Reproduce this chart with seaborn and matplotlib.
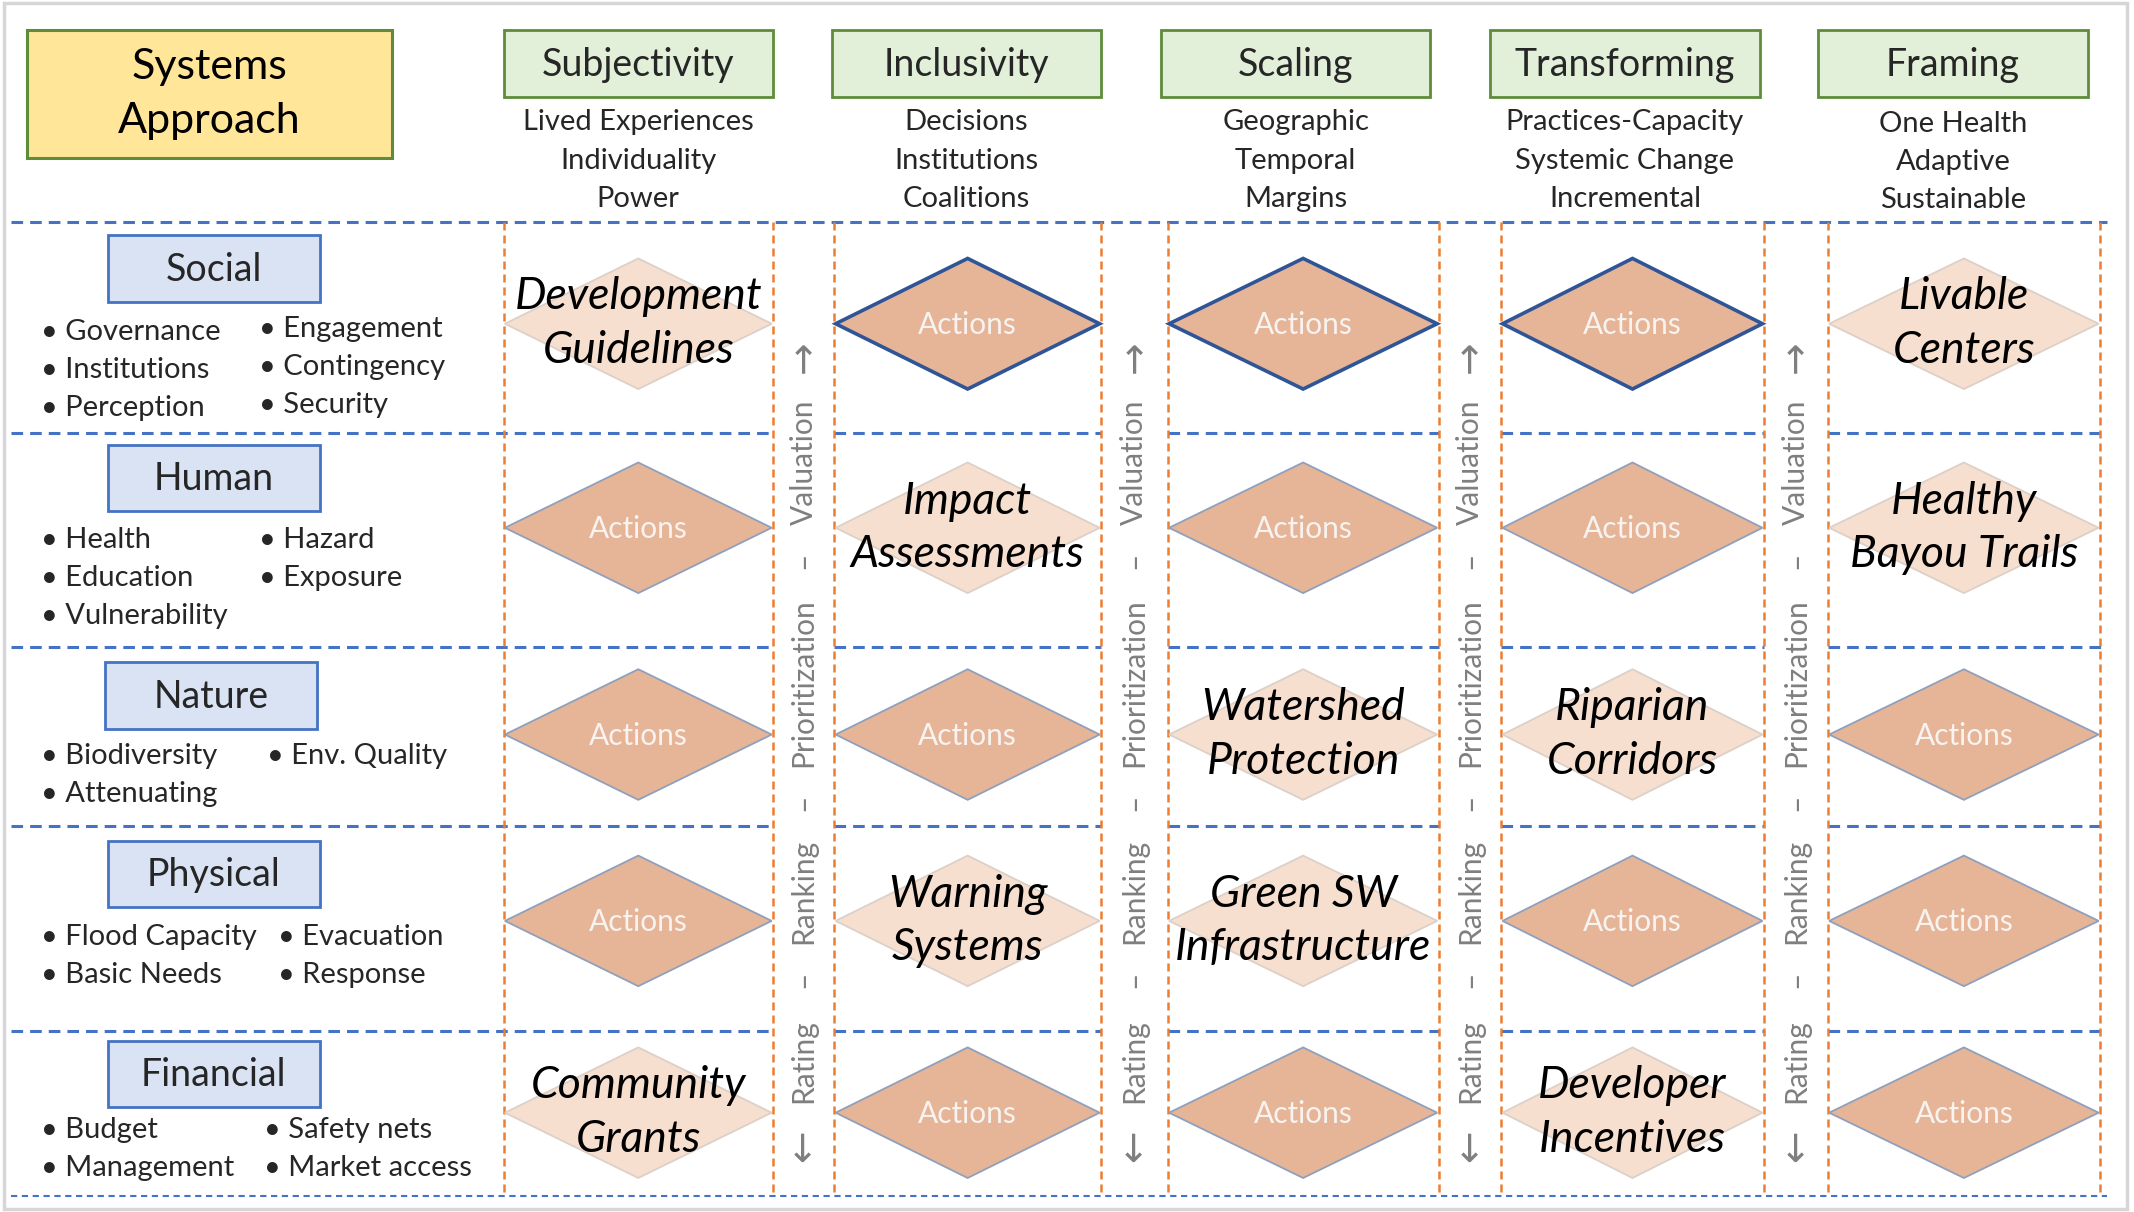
import matplotlib
matplotlib.use("Agg")
import matplotlib.pyplot as plt
import seaborn as sns
from matplotlib.patches import Polygon, Rectangle

# ---------------- data ----------------
frameworks = ["Subjectivity", "Inclusivity", "Scaling", "Transforming", "Framing"]
framework_terms = [
    ["Lived Experiences", "Individuality", "Power"],
    ["Decisions", "Institutions", "Coalitions"],
    ["Geographic", "Temporal", "Margins"],
    ["Practices-Capacity", "Systemic Change", "Incremental"],
    ["One Health", "Adaptive", "Sustainable"],
]
capitals = ["Social", "Human", "Nature", "Physical", "Financial"]
capital_items_left = [
    ["Governance", "Institutions", "Perception"],
    ["Health", "Education", "Vulnerability"],
    ["Biodiversity", "Attenuating"],
    ["Flood Capacity", "Basic Needs"],
    ["Budget", "Management"],
]
capital_items_right = [
    ["Engagement", "Contingency", "Security"],
    ["Hazard", "Exposure"],
    ["Env. Quality"],
    ["Evacuation", "Response"],
    ["Safety nets", "Market access"],
]
cell_labels = [
    ["Development\nGuidelines", "Actions", "Actions", "Actions", "Livable\nCenters"],
    ["Actions", "Impact\nAssessments", "Actions", "Actions", "Healthy\nBayou Trails"],
    ["Actions", "Actions", "Watershed\nProtection", "Riparian\nCorridors", "Actions"],
    ["Actions", "Warning\nSystems", "Green SW\nInfrastructure", "Actions", "Actions"],
    ["Community\nGrants", "Actions", "Actions", "Developer\nIncentives", "Actions"],
]
highlighted = [
    [False, True, True, True, False],
    [False, False, False, False, False],
    [False, False, False, False, False],
    [False, False, False, False, False],
    [False, False, False, False, False],
]
process_steps = ["Rating", "Ranking", "Prioritization", "Valuation"]
title_text = "Systems\nApproach"

# ---------------- layout (canvas units) ----------------
W, H = 1568, 891
col_left = [370, 613, 858, 1103, 1343]
col_right = [568, 809, 1057, 1296, 1543]
header_left = [370, 611, 853, 1095, 1336]
header_w, header_top, header_h = 198, 22, 49
term_y = [90, 118, 146]
row_lines = [163, 318, 476, 607, 758, 879]
row_center = [238, 388, 540, 677, 818]
row_box_left = [79, 79, 77, 79, 79]
row_box_top = [173, 327, 487, 618, 765]
row_box_w, row_box_h = 156, 49
bullet_first_y = [244, 397, 556, 689, 831]
bullet_left_x = 30
bullet_right_x = [190, 190, 196, 204, 194]
bullet_dy = 28
diamond_h = 96
step_y = [780, 655, 502, 340]
sep_y = [720, 590, 412]
arrow_up_y, arrow_down_y = 262, 842

# ---------------- style ----------------
sns.set_theme(style="white")
plt.rcParams['font.family'] = ['Lato', 'DejaVu Sans']

C_BLUE_LINE = "#4472C4"
C_ORANGE_LINE = "#ED7D31"
C_DARK_FILL = "#E6B597"
C_DARK_EDGE = "#8FA0BC"
C_LIGHT_FILL = "#F6DFCF"
C_LIGHT_EDGE = "#DCD0C8"
C_NAVY = "#2F5597"
C_GRAY_TXT = "#7F7F7F"

FS_TITLE = 31
FS_HEAD = 27
FS_TERM = 21
FS_BULLET = 21
FS_ACTION = 21.5
FS_ITALIC = 32
FS_STEP = 21.5

fig = plt.figure(figsize=(21.34, 12.12), dpi=100)
ax = fig.add_axes([0, 0, 1, 1])
ax.set_xlim(0, W)
ax.set_ylim(H, 0)
ax.axis("off")

# page frame
ax.add_patch(Rectangle((3, 2), W - 8, H - 4, fill=False, ec="#D6D6D6", lw=2.5, zorder=0))

# title box
ax.add_patch(Rectangle((20, 22), 268, 94, fc="#FFE699", ec="#5E8C3A", lw=2.2, zorder=2))
ax.text(154, 69, title_text, ha="center", va="center", fontsize=FS_TITLE,
        linespacing=1.5, color="black", zorder=3)

# framework headers
for i, name in enumerate(frameworks):
    x0 = header_left[i]
    ax.add_patch(Rectangle((x0, header_top), header_w, header_h, fc="#E2F0D9",
                           ec="#5E8C3A", lw=2.0, zorder=2))
    ax.text(x0 + header_w / 2, header_top + header_h / 2 + 1, name, ha="center",
            va="center", fontsize=FS_HEAD, zorder=3)
    for j, t in enumerate(framework_terms[i]):
        ax.text(x0 + header_w / 2, term_y[j] + (1 if i == 4 else 0), t,
                ha="center", va="center", fontsize=FS_TERM, zorder=3)

# horizontal blue dashed lines
seg_starts = [8] + col_left[1:]
seg_ends = col_right[:]
seg_ends[-1] = 1548
for k, y in enumerate(row_lines):
    if k == 0:
        ax.plot([8, 1548], [y, y], color=C_BLUE_LINE, lw=2.2, ls=(0, (3.8, 2.3)), zorder=1)
    elif k == len(row_lines) - 1:
        ax.plot([8, 1548], [y, y], color=C_BLUE_LINE, lw=1.5, ls=(0, (3.0, 2.2)), zorder=1)
    else:
        for s, e in zip(seg_starts, seg_ends):
            ax.plot([s, e], [y, y], color=C_BLUE_LINE, lw=2.2, ls=(0, (3.8, 2.3)), zorder=1)

# vertical orange dashed lines
for xl, xr in zip(col_left, col_right):
    for x in (xl, xr):
        ax.plot([x, x], [row_lines[0], row_lines[-1]], color=C_ORANGE_LINE, lw=1.8,
                ls=(0, (3.2, 2.0)), zorder=1)

# capital rows
for r, cap in enumerate(capitals):
    bx, by = row_box_left[r], row_box_top[r]
    ax.add_patch(Rectangle((bx, by), row_box_w, row_box_h, fc="#DAE3F3",
                           ec=C_BLUE_LINE, lw=2.0, zorder=2))
    ax.text(bx + row_box_w / 2, by + row_box_h / 2 + 1, cap, ha="center", va="center",
            fontsize=FS_HEAD, zorder=3)
    for j, it in enumerate(capital_items_left[r]):
        ax.text(bullet_left_x, bullet_first_y[r] + j * bullet_dy, "\u2022 " + it,
                ha="left", va="center", fontsize=FS_BULLET, zorder=3)
    for j, it in enumerate(capital_items_right[r]):
        ax.text(bullet_right_x[r], bullet_first_y[r] + j * bullet_dy - (2 if r == 0 else 0),
                "\u2022 " + it, ha="left", va="center", fontsize=FS_BULLET, zorder=3)

# diamonds
for r in range(len(capitals)):
    for c in range(len(frameworks)):
        cx = (col_left[c] + col_right[c]) / 2
        cy = row_center[r]
        hw = (col_right[c] - col_left[c]) / 2 - 1
        hh = diamond_h / 2
        pts = [(cx - hw, cy), (cx, cy - hh), (cx + hw, cy), (cx, cy + hh)]
        lab = cell_labels[r][c]
        if lab == "Actions":
            if highlighted[r][c]:
                ec, lw = C_NAVY, 2.6
            else:
                ec, lw = C_DARK_EDGE, 1.3
            ax.add_patch(Polygon(pts, closed=True, fc=C_DARK_FILL, ec=ec, lw=lw,
                                 joinstyle="miter", zorder=2))
            ax.text(cx, cy + 1, lab, ha="center", va="center", fontsize=FS_ACTION,
                    color="#F7F3F0", zorder=3)
        else:
            ax.add_patch(Polygon(pts, closed=True, fc=C_LIGHT_FILL, ec=C_LIGHT_EDGE,
                                 lw=1.3, zorder=2))
            ax.text(cx, cy, lab, ha="center", va="center", fontsize=FS_ITALIC,
                    style="italic", linespacing=1.38, color="black", zorder=3)

# process text in gaps
for g in range(len(frameworks) - 1):
    gx = (col_right[g] + col_left[g + 1]) / 2
    for s, y in zip(process_steps, step_y):
        ax.text(gx, y, s, rotation=90, ha="center", va="center", fontsize=FS_STEP,
                color=C_GRAY_TXT, zorder=3)
    for y in sep_y:
        ax.text(gx, y, "\u2013", rotation=90, ha="center", va="center", fontsize=FS_STEP,
                color=C_GRAY_TXT, zorder=3)
    ax.text(gx, arrow_up_y, "\u2192", rotation=90, ha="center", va="center",
            fontsize=28, color=C_GRAY_TXT, zorder=3, family=['DejaVu Sans'])
    ax.text(gx, arrow_down_y, "\u2190", rotation=90, ha="center", va="center",
            fontsize=28, color=C_GRAY_TXT, zorder=3, family=['DejaVu Sans'])

fig.savefig("out.png", dpi=100, facecolor="white")
